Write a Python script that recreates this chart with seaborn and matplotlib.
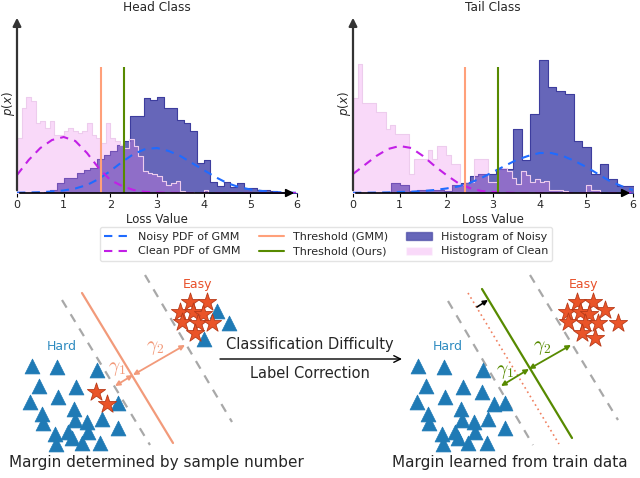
import numpy as np
import pandas as pd
import matplotlib
matplotlib.use("Agg")
import matplotlib.pyplot as plt
import seaborn as sns
from matplotlib.lines import Line2D
from matplotlib.patches import Patch

sns.set_style("white")
plt.rcParams['font.family'] = ['DejaVu Sans']

# ---- histogram data (heights, arbitrary p(x) units) ----
head_noisy_bin = 1 / 7
head_noisy = [0, 0, 0, 0, 1, 3, 10, 15, 15, 20, 23, 25, 34, 38, 42, 48, 52, 77, 77, 95, 93,
              96, 85, 85, 73, 70, 62, 30, 33, 11, 7, 11, 6, 10, 5, 5, 3, 3, 2, 1, 0, 0]
head_clean_bin = 0.1
head_clean = [55, 85, 96, 92, 70, 72, 65, 72, 58, 58, 62, 65, 62, 60, 62, 70, 58, 55, 50, 70,
              55, 52, 48, 45, 54, 47, 37, 22, 20, 19, 17, 12, 8, 10, 12, 2, 1, 1, 0, 0, 3]

tail_noisy_start = 0.08
tail_noisy_bin = 0.186
tail_noisy = [0, 0, 0, 0, 10, 8, 2, 3, 3, 3, 2, 8, 10, 17, 19, 19, 24, 24, 64, 33, 79, 133,
              106, 102, 99, 52, 46, 19, 29, 14, 7, 7]
tail_clean_bin = 0.1
tail_clean = [95, 129, 90, 90, 90, 81, 81, 64, 68, 59, 59, 59, 19, 34, 34, 34, 43, 34, 47, 47,
              38, 29, 29, 8, 11, 11, 34, 34, 34, 11, 11, 25, 25, 22, 15, 9, 22, 18, 11, 14,
              11, 12, 3, 3, 3, 2, 0, 0, 0, 0, 8, 3, 3]

# ---- GMM pdf curves, read every 0.25 on the loss axis ----
curve_x = np.arange(0, 6.01, 0.25)
head_clean_pdf = [18, 33, 45, 53, 56, 52, 40, 25, 13, 7, 3, 1.2, 0.5, 0.2, 0.1, 0, 0, 0, 0, 0,
                  0, 0, 0, 0, 0]
head_noisy_pdf = [0.3, 0.5, 0.8, 1.5, 2.5, 4.5, 8, 14, 22, 31, 39, 44, 45, 42, 37, 30, 23, 16,
                  10, 6, 3.5, 2, 1, 0.5, 0.2]
tail_clean_pdf = [19, 28, 37, 44, 47, 45, 37, 27, 18, 10, 5, 2, 1, 0.3, 0.1, 0, 0, 0, 0, 0, 0,
                  0, 0, 0, 0]
tail_noisy_pdf = [0.2, 0.3, 0.4, 0.6, 1, 1.3, 2, 3, 4.5, 6.5, 10, 15, 21, 27, 33, 37, 40, 40,
                  37, 32, 26, 19, 12, 7, 3]

thr_gmm = {"Head Class": 1.8, "Tail Class": 2.4}
thr_ours = {"Head Class": 2.3, "Tail Class": 3.1}
thr_height = 126

c_noisy_pdf = '#1f6bff'
c_clean_pdf = '#c21fe6'
c_gmm = 'lightsalmon'
c_ours = '#578a00'

fig = plt.figure(figsize=(6.4, 4.78), dpi=100)


def hist(ax, heights, start, width, color, alpha, edge):
    edges = start + width * np.arange(len(heights) + 1)
    df = pd.DataFrame({"loss": (edges[:-1] + edges[1:]) / 2, "h": heights})
    sns.histplot(data=df, x="loss", weights="h", bins=list(edges), element='step', fill=True,
                 color=color, alpha=alpha, edgecolor=edge, linewidth=0.8, ax=ax)


panels = [
    ("Head Class", 17, head_noisy, 0.0, head_noisy_bin, head_clean, head_clean_bin,
     head_noisy_pdf, head_clean_pdf),
    ("Tail Class", 353, tail_noisy, tail_noisy_start, tail_noisy_bin, tail_clean, tail_clean_bin,
     tail_noisy_pdf, tail_clean_pdf),
]

for title, left, noisy, nstart, nbin, clean, cbin, npdf, cpdf in panels:
    ax = fig.add_axes([left / 640, (478 - 193) / 478, 280 / 640, 178 / 478])
    hist(ax, noisy, nstart, nbin, 'darkblue', 0.6, '#3d3d9e')
    hist(ax, clean, 0.0, cbin, 'violet', 0.3, (0.93, 0.8, 0.93))
    ax.plot(curve_x, npdf, color=c_noisy_pdf, linestyle=(0, (4, 3)), lw=1.5)
    ax.plot(curve_x, cpdf, color=c_clean_pdf, linestyle=(0, (4, 3)), lw=1.5)
    ax.vlines(thr_gmm[title], 0, thr_height, color=c_gmm, lw=1.5)
    ax.vlines(thr_ours[title], 0, thr_height, color=c_ours, lw=1.5)
    ax.set_xlim(0, 6)
    ax.set_ylim(0, 178)
    for s in ax.spines.values():
        s.set_visible(False)
    ax.annotate('', xy=(6, 0), xytext=(0, 0),
                arrowprops=dict(arrowstyle='-|>', color='black', lw=1.2, mutation_scale=12))
    ax.annotate('', xy=(0, 178), xytext=(0, 0),
                arrowprops=dict(arrowstyle='-|>', color='#333333', lw=1.6, mutation_scale=12))
    ax.set_xticks(range(7))
    ax.set_yticks([])
    ax.tick_params(axis='x', bottom=True, length=3, labelsize=8, pad=2, color='black')
    ax.set_xlabel("Loss Value", fontsize=8.5, labelpad=2)
    ax.set_ylabel("")
    ax.text(-0.03, 0.5, "$p(x)$", rotation=90, fontsize=8.5, ha='center', va='center',
            transform=ax.transAxes)
    ax.set_title(title, fontsize=8.7, pad=3)

handles = [
    Line2D([], [], color=c_noisy_pdf, ls=(0, (4, 3)), lw=1.5),
    Line2D([], [], color=c_clean_pdf, ls=(0, (4, 3)), lw=1.5),
    Line2D([], [], color=c_gmm, lw=1.5),
    Line2D([], [], color=c_ours, lw=1.5),
    Patch(facecolor='darkblue', alpha=0.6, edgecolor='#3d3d9e'),
    Patch(facecolor='violet', alpha=0.3),
]
labels = ["Noisy PDF of GMM", "Clean PDF of GMM", "Threshold (GMM)", "Threshold (Ours)",
          "Histogram of Noisy", "Histogram of Clean"]
fig.legend(handles, labels, ncol=3, loc='center', bbox_to_anchor=(326 / 640, 1 - 244 / 478),
           fontsize=8, frameon=True, columnspacing=1.6, handlelength=2.3,
           borderpad=0.4, labelspacing=0.45, fancybox=True, edgecolor='#dddddd')

# ---- schematic (pixel-like coordinates) ----
tri_left_x = [31.7, 57.3, 96.7, 39.3, 76, 58.3, 30, 41.7, 74, 42.7, 75, 87.3, 101.7, 118.3,
              118.3, 55, 68.3, 88.3, 56, 71.7, 81.7, 100, 216.7, 229.3, 204]
tri_left_y = [366, 367.3, 370, 386, 386.7, 396.7, 401.7, 414, 409.3, 423.3, 420, 422.3, 419.3,
              403.3, 428.3, 434, 431.7, 431.7, 444, 438.3, 443.3, 443.3, 310.7, 322.7, 339.3]
star_left_x = [190, 206.6, 180, 193.3, 202.6, 181.6, 198.3, 211.6, 195, 95.7, 107.3]
star_left_y = [301.7, 301.7, 311.7, 311.7, 314, 321.7, 323.3, 323.3, 333.3, 391.7, 404]

tri_right_x = [418.3, 444, 483.3, 426, 462.7, 445, 416.7, 428.3, 460.7, 429.3, 461.7, 474,
               488.3, 505, 505, 441.7, 455, 475, 442.7, 458.3, 468.3, 486.7, 482.3, 494]
tri_right_y = [366, 367.3, 370, 386, 386.7, 396.7, 401.7, 414, 409.3, 423.3, 420, 422.3, 419.3,
               403.3, 428.3, 434, 431.7, 431.7, 444, 438.3, 443.3, 443.3, 391.7, 404]
star_right_x = [576.7, 593.3, 566.7, 580, 589.3, 605, 568.3, 585, 598.3, 618.3, 581.7, 595]
star_right_y = [301.7, 301.7, 311.7, 311.7, 314, 310, 321.7, 323.3, 323.3, 322.7, 333.3, 338.3]

gray_lines = [((62, 150), (300, 445)), ((145, 232), (275, 422)),
              ((448, 533), (301, 445)), ((530, 618), (275, 420))]
gmm_line_left = ((82, 173), (293, 443))
gmm_line_right = ((468, 559), (293, 444))
ours_line = ((482, 572), (289, 438))

c_tri = '#1f7ab5'
c_star = '#ea5428'
c_easy = '#e8502a'
c_hard = '#2e8bc0'
c_gamma_left = '#f29a7a'

ax3 = fig.add_axes([0, 0, 1, 216 / 478])
ax3.set_xlim(0, 640)
ax3.set_ylim(478, 262)
ax3.axis('off')

for lx, ly in gray_lines:
    ax3.plot(lx, ly, color='#a8a8a8', lw=1.6, ls=(0, (4, 3.5)))
ax3.plot(*gmm_line_left, color=c_gamma_left, lw=1.6)
ax3.plot(*gmm_line_right, color='#f08060', lw=1.2, ls=(0, (1, 2)))
ax3.plot(*ours_line, color=c_ours, lw=1.6)

sns.scatterplot(x=tri_left_x, y=tri_left_y, marker='^', s=115, color=c_tri, edgecolor=c_tri,
                linewidth=0.5, ax=ax3, zorder=3)
sns.scatterplot(x=tri_right_x, y=tri_right_y, marker='^', s=115, color=c_tri, edgecolor=c_tri,
                linewidth=0.5, ax=ax3, zorder=3)
sns.scatterplot(x=star_left_x, y=star_left_y, marker='*', s=190, color=c_star,
                edgecolor='#b83a18', linewidth=0.6, ax=ax3, zorder=4)
sns.scatterplot(x=star_right_x, y=star_right_y, marker='*', s=190, color=c_star,
                edgecolor='#b83a18', linewidth=0.6, ax=ax3, zorder=4)

gamma_arrows = [((115, 386), (133, 375), c_gamma_left), ((133, 375), (185, 345), c_gamma_left),
                ((501, 386), (529, 369), c_ours), ((529, 369), (571, 345), c_ours)]
for a, b, c in gamma_arrows:
    ax3.annotate('', xy=b, xytext=a,
                 arrowprops=dict(arrowstyle='<|-|>', color=c, lw=1.3, mutation_scale=7,
                                 shrinkA=0, shrinkB=0))
ax3.annotate('', xy=(488, 300), xytext=(477, 307),
             arrowprops=dict(arrowstyle='-|>', color='black', lw=1.2, mutation_scale=7,
                             shrinkA=0, shrinkB=0))
for gx, gy, gt, gc in [(117, 368, r'$\gamma_1$', c_gamma_left),
                       (155, 347, r'$\gamma_2$', c_gamma_left),
                       (505, 371, r'$\gamma_1$', c_ours),
                       (542, 347, r'$\gamma_2$', c_ours)]:
    ax3.text(gx, gy, gt, color=gc, fontsize=14, ha='center', va='center',
             math_fontfamily='cm')

ax3.text(197, 284, "Easy", color=c_easy, fontsize=9, ha='center', va='center')
ax3.text(583, 284, "Easy", color=c_easy, fontsize=9, ha='center', va='center')
ax3.text(62, 346, "Hard", color=c_hard, fontsize=9, ha='center', va='center')
ax3.text(448, 346, "Hard", color=c_hard, fontsize=9, ha='center', va='center')

ax3.annotate('', xy=(402, 359), xytext=(220, 359),
             arrowprops=dict(arrowstyle='->', color='black', lw=1.0, mutation_scale=12,
                             shrinkA=0, shrinkB=0))
ax3.text(310, 344, "Classification Difficulty", fontsize=10.5, ha='center', va='center')
ax3.text(310, 373, "Label Correction", fontsize=10.5, ha='center', va='center')

ax3.text(156, 462, "Margin determined by sample number", fontsize=11, ha='center', va='center')
ax3.text(510, 462, "Margin learned from train data", fontsize=11, ha='center', va='center')

fig.savefig("out.png", dpi=100)
